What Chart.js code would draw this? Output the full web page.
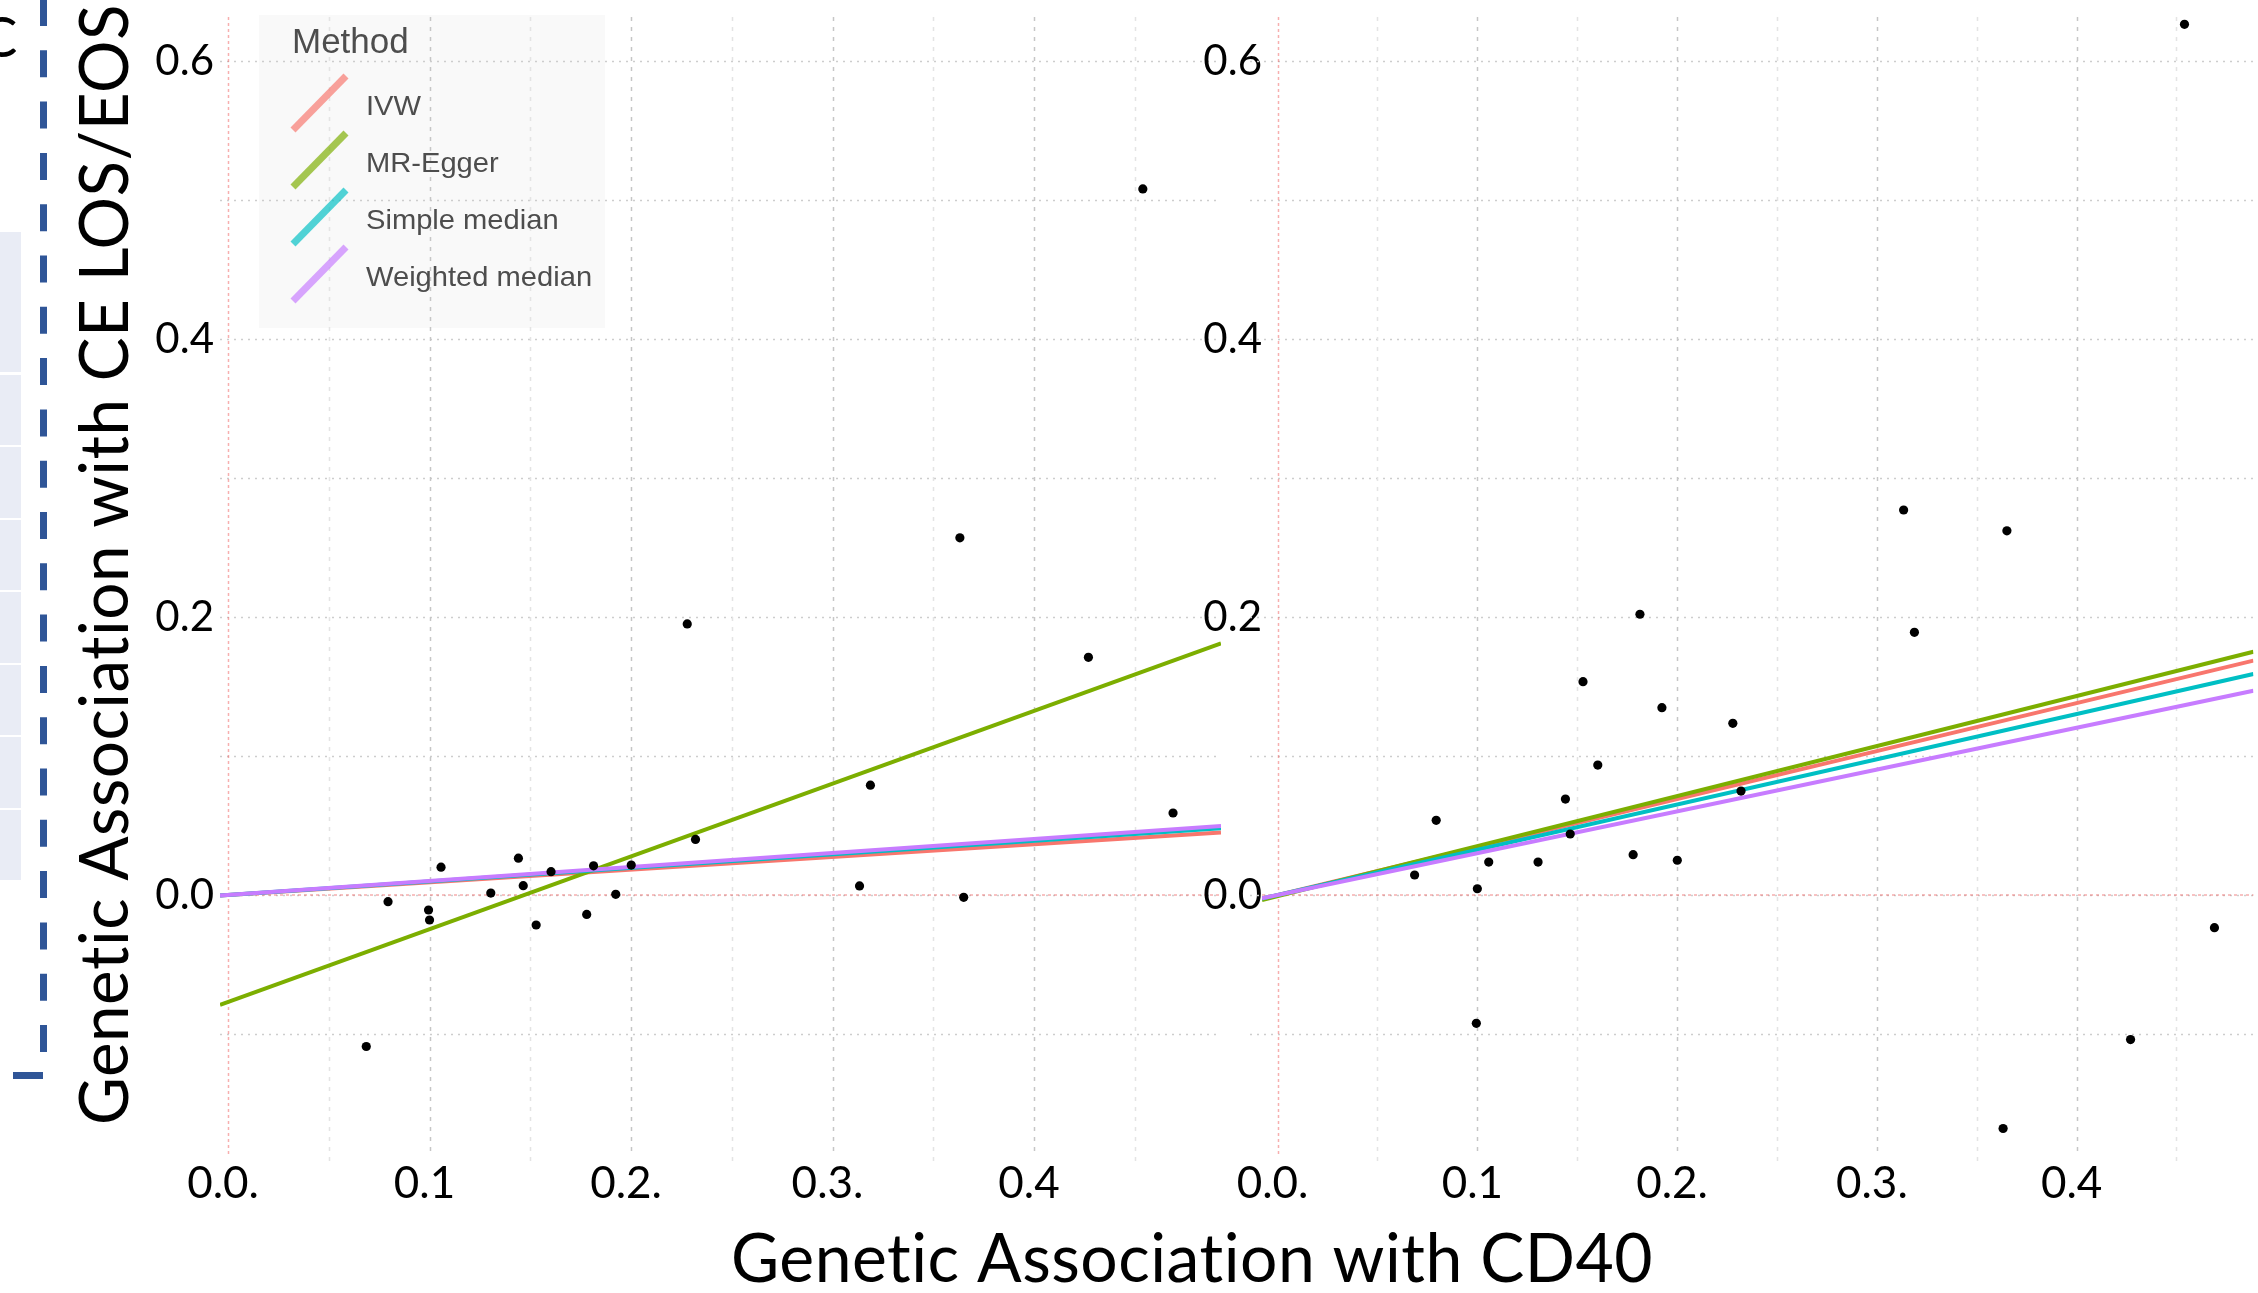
<!DOCTYPE html>
<html><head><meta charset="utf-8">
<script src="https://cdn.jsdelivr.net/npm/chart.js@4.4.1/dist/chart.umd.min.js"></script>
<style>
html,body{margin:0;padding:0;background:#fff;width:2258px;height:1293px;overflow:hidden;}
#wrap{position:relative;width:2258px;height:1293px;}
canvas{position:absolute;top:0;}
#cA{left:0;} #cB{left:1130px;}
</style></head><body><div id="wrap"><canvas id="cA" width="2258" height="1293"></canvas><canvas id="cB" width="1128" height="1293"></canvas></div>
<script>
// ---------- data ----------
const methods = ["IVW", "MR-Egger", "Simple median", "Weighted median"];
const methodColors = ["#F8766D", "#7CAE00", "#00BFC4", "#C77CFF"];
const snpExposure  = [0.0686,0.0794,0.0995,0.1000,0.1057,0.1304,0.1441,0.1465,0.1529,0.1603,0.1780,0.1814,0.1924,0.2001,0.2279,0.2320,0.3134,0.3188,0.3632,0.3651,0.4270,0.4540,0.4690];
const outcomeLeft  = [-0.109,-0.0048,-0.0108,-0.018,0.020,0.0014,0.0265,0.0067,-0.0216,0.0168,-0.014,0.021,0.0005,0.0215,0.195,0.040,0.0065,0.079,0.257,-0.0017,0.171,0.508,0.059];
const outcomeRight = [0.0144,0.0537,-0.0923,0.0045,0.0237,0.0237,0.069,0.0439,0.1535,0.0935,0.029,0.202,0.1348,0.025,0.1235,0.0748,0.277,0.189,-0.168,0.262,-0.104,0.6264,-0.0235];
// fitted lines: value at the left and right edge of each panel
const lineStartLeft  = [-0.0004, -0.079, -0.0004, -0.0004];
const lineEndLeft    = [0.045, 0.181, 0.048, 0.0496];
const lineStartRight = [-0.0027, -0.0036, -0.0025, -0.0023];
const lineEndRight   = [0.1686, 0.175, 0.159, 0.147];
const yTickValues = [0, 0.2, 0.4, 0.6];
const yTickLabels = ["0.0", "0.2", "0.4", "0.6"];
const xTickValues = [0, 0.1, 0.2, 0.3, 0.4];
const xTickLabels = ["0.0.", "0.1", "0.2.", "0.3.", "0.4"];
const yGridValues = [-0.1, 0, 0.1, 0.2, 0.3, 0.4, 0.5, 0.6];
const xGridMajor = [0.1, 0.2, 0.3, 0.4];
const xGridMinor = [0.05, 0.15, 0.25, 0.35, 0.45];
const xTitle = "Genetic Association with CD40";
const yTitle = "Genetic Association with CE LOS/EOS";
const legendTitle = "Method";
const yRange = [-0.1885, 0.6317];
const xRangeLeft = [-0.004, 0.4928];
const xRangeRight = [-0.0078, 0.4885];

// ---------- plugins ----------
const gridPlugin = {
  id: 'customGrid',
  beforeDatasetsDraw(chart) {
    const {ctx, chartArea: a, scales: {x, y}} = chart;
    const ext = chart.canvas.id === 'cB' ? 12 : 0;
    ctx.save();
    ctx.lineWidth = 1.5;
    ctx.strokeStyle = '#cdcdcd';
    ctx.setLineDash([2, 5]);
    yGridValues.forEach(v => {
      const py = Math.round(y.getPixelForValue(v)) + 0.5;
      ctx.beginPath(); ctx.moveTo(a.left - ext, py); ctx.lineTo(a.right, py); ctx.stroke();
    });
    ctx.setLineDash([4, 6]);
    ctx.strokeStyle = '#e4e4e4';
    xGridMinor.forEach(v => {
      const px = Math.round(x.getPixelForValue(v)) + 0.5;
      if (px < a.left || px > a.right) return;
      ctx.beginPath(); ctx.moveTo(px, a.top); ctx.lineTo(px, a.bottom + 8); ctx.stroke();
    });
    ctx.strokeStyle = '#c6c6c6';
    xGridMajor.forEach(v => {
      const px = Math.round(x.getPixelForValue(v)) + 0.5;
      ctx.beginPath(); ctx.moveTo(px, a.top); ctx.lineTo(px, a.bottom); ctx.stroke();
    });
    // zero reference lines
    ctx.strokeStyle = 'rgba(240,110,110,0.55)';
    ctx.lineWidth = 1.5;
    ctx.setLineDash([3, 3]);
    const x0 = Math.round(x.getPixelForValue(0)) + 0.5;
    ctx.beginPath(); ctx.moveTo(x0, a.top); ctx.lineTo(x0, a.bottom); ctx.stroke();
    ctx.lineWidth = 2;
    ctx.strokeStyle = 'rgba(240,120,120,0.45)';
    const y0 = Math.round(y.getPixelForValue(0));
    ctx.beginPath(); ctx.moveTo(a.left, y0); ctx.lineTo(a.right, y0); ctx.stroke();
    ctx.restore();
  }
};

const legendBox = {x: 259, y: 15, w: 346, h: 313};
const decoPlugin = {
  id: 'deco',
  beforeDraw(chart) {
    const ctx = chart.ctx;
    ctx.save();
    ctx.fillStyle = 'rgba(242,242,242,0.45)';
    ctx.fillRect(legendBox.x, legendBox.y, legendBox.w, legendBox.h);
    // fragments of the neighbouring figure panel on the far left
    ctx.fillStyle = '#E9ECF5';
    [[232,372],[375,445],[447,518],[520,590],[592,663],[665,735],[737,808],[810,880]].forEach(r => {
      ctx.fillRect(0, r[0], 21, r[1] - r[0]);
    });
    ctx.restore();
  },
  afterDraw(chart) {
    const ctx = chart.ctx;
    ctx.save();
    // legend
    ctx.fillStyle = '#4D4D4D';
    ctx.font = '35px "Liberation Sans", Arial, sans-serif';
    ctx.textBaseline = 'alphabetic';
    ctx.textAlign = 'left';
    ctx.fillText(legendTitle, 292, 53);
    ctx.font = '28px "Liberation Sans", Arial, sans-serif';
    methods.forEach((m, i) => {
      const cy = 103 + i * 57;
      ctx.strokeStyle = methodColors[i];
      ctx.globalAlpha = 0.68;
      ctx.lineWidth = 7;
      ctx.beginPath(); ctx.moveTo(293, cy + 27); ctx.lineTo(346, cy - 27); ctx.stroke();
      ctx.globalAlpha = 1;
      ctx.textBaseline = 'middle';
      ctx.save();
      ctx.translate(366, cy + 4);
      ctx.scale(1.04, 1);
      ctx.fillText(m, 0, 0);
      ctx.restore();
    });
    // axis titles
    ctx.fillStyle = '#000';
    ctx.font = '67px Lato, "Open Sans", sans-serif';
    ctx.letterSpacing = '0.5px';
    ctx.textBaseline = 'alphabetic';
    ctx.textAlign = 'center';
    ctx.fillText(xTitle, 1192, 1282, 922);
    ctx.save();
    ctx.translate(128, 1125);
    ctx.rotate(-Math.PI / 2);
    ctx.textAlign = 'left';
    ctx.fillText(yTitle, 0, 0, 1121);
    ctx.restore();
    ctx.letterSpacing = '0px';
    // blue dashed frame fragment
    ctx.strokeStyle = '#2F5597';
    ctx.lineWidth = 7;
    ctx.setLineDash([27, 24.3]);
    ctx.lineDashOffset = 1;
    ctx.beginPath(); ctx.moveTo(43.5, 0); ctx.lineTo(43.5, 1053); ctx.stroke();
    ctx.setLineDash([]);
    ctx.fillStyle = '#2F5597';
    ctx.fillRect(13, 1072, 30, 7);
    ctx.fillStyle = '#000';
    ctx.font = '56px Lato, sans-serif';
    ctx.textAlign = 'left';
    ctx.fillText('C', -20, 57);
    ctx.restore();
  }
};

// ---------- charts ----------
function makePanel(canvasId, outcome, starts, ends, xRange, padding, yTickPad, extraPlugins) {
  const datasets = [{
    type: 'scatter', label: 'SNPs',
    data: snpExposure.map((x, i) => ({x: x, y: outcome[i]})),
    pointRadius: 4.6, pointBackgroundColor: '#000', pointBorderWidth: 0, order: 0
  }];
  methods.forEach((m, i) => {
    datasets.push({
      type: 'scatter', label: m, showLine: true,
      data: [{x: xRange[0], y: starts[i]}, {x: xRange[1], y: ends[i]}],
      borderColor: methodColors[i], backgroundColor: methodColors[i],
      borderWidth: 4, pointRadius: 0, order: methods.length - i, fill: false
    });
  });
  return new Chart(document.getElementById(canvasId), {
    type: 'scatter',
    data: {datasets},
    options: {
      responsive: false, animation: false, devicePixelRatio: 1, events: [],
      layout: {padding: padding},
      plugins: {legend: {display: false}, tooltip: {enabled: false}},
      scales: {
        x: {
          type: 'linear', min: xRange[0], max: xRange[1],
          grid: {display: false, drawTicks: false}, border: {display: false},
          afterBuildTicks: s => { s.ticks = xTickValues.map(v => ({value: v})); },
          afterFit: s => { s.height = 70; s.paddingLeft = 0; s.paddingRight = 0; },
          ticks: {
            autoSkip: false, maxRotation: 0, minRotation: 0, padding: 0, labelOffset: -5,
            color: '#000', font: {family: 'Lato', size: 44},
            callback: v => xTickLabels[xTickValues.indexOf(v)]
          }
        },
        y: {
          type: 'linear', min: yRange[0], max: yRange[1],
          grid: {display: false, drawTicks: false}, border: {display: false},
          afterBuildTicks: s => { s.ticks = yTickValues.map(v => ({value: v})); },
          afterFit: s => { s.width = 120; s.paddingTop = 0; s.paddingBottom = 0; },
          ticks: {
            autoSkip: false, padding: yTickPad, color: '#000', font: {family: 'Lato', size: 42},
            callback: v => yTickLabels[yTickValues.indexOf(v)]
          }
        }
      }
    },
    plugins: [gridPlugin].concat(extraPlugins)
  });
}

makePanel('cA', outcomeLeft, lineStartLeft, lineEndLeft, xRangeLeft,
  {left: 100, right: 1037, top: 17, bottom: 66}, 6, [decoPlugin]);
makePanel('cB', outcomeRight, lineStartRight, lineEndRight, xRangeRight,
  {left: 12, right: 0, top: 17, bottom: 66}, 0, []);
</script></body></html>
